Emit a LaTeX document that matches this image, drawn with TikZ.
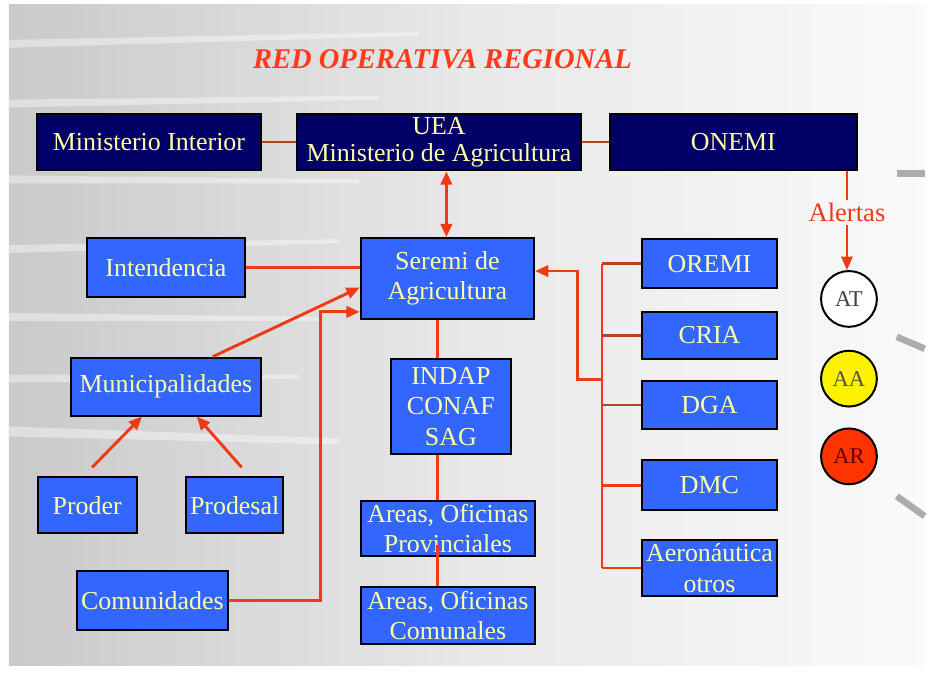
\documentclass[tikz,border=0pt]{standalone}
\usepackage{fontspec}
\setmainfont{Liberation Serif}
\usetikzlibrary{arrows.meta,calc}
\definecolor{navy}{HTML}{000066}
\definecolor{boxblue}{HTML}{3366FF}
\definecolor{paleyel}{HTML}{FFFFA8}
\definecolor{lred}{HTML}{F03A14}
\definecolor{brn}{HTML}{B5421E}
\definecolor{titred}{HTML}{FF3A1A}
\definecolor{arred}{HTML}{FF3300}
\begin{document}
\begin{tikzpicture}[x=0.75pt,y=-0.75pt,
  base/.style={draw=black, line width=1.5pt, inner sep=0pt, text=paleyel, align=center, font=\fontsize{19.5}{23}\selectfont},
  wh/.style 2 args={minimum width=#1*0.75pt, minimum height=#2*0.75pt},
  dbox/.style={base, fill=navy},
  bbox/.style={base, fill=boxblue},
  circ/.style={circle, draw=black, line width=1.5pt, minimum size=42pt, inner sep=0pt, font=\fontsize{17}{19}\selectfont},
  conn/.style={draw=lred, line width=2pt},
  bconn/.style={draw=brn, line width=2pt},
  arr/.style={conn, line width=2.2pt, -{Triangle[length=10pt,width=8.5pt]}},
  darr/.style={conn, line width=2.2pt, {Triangle[length=10pt,width=8.5pt]}-{Triangle[length=10pt,width=8.5pt]}},
  streak/.style={fill=white, opacity=0.4},
  edgemark/.style={draw=gray!65, line width=5pt}
]
% background
\fill[white] (0,0) rectangle (928,681);
\shade[left color=gray!42, right color=gray!4, middle color=gray!18] (9,5) rectangle (928,668);
\fill[streak] (9,40) -- (420,32) -- (420,36) -- (9,48) -- cycle;
\fill[streak] (9,100) -- (380,96) -- (380,100) -- (9,108) -- cycle;
\fill[streak] (9,176) -- (360,180) -- (360,184) -- (9,184) -- cycle;
\fill[streak] (9,246) -- (340,240) -- (340,244) -- (9,254) -- cycle;
\fill[streak] (9,314) -- (320,318) -- (320,322) -- (9,322) -- cycle;
\fill[streak] (9,376) -- (300,376) -- (300,380) -- (9,384) -- cycle;
\fill[streak] (9,428) -- (340,440) -- (340,446) -- (9,438) -- cycle;
\draw[edgemark] (900,174) -- (928,174);
\draw[edgemark] (900,338) -- (928,350);
\draw[edgemark] (900,498) -- (928,518);

% title
\node[text=titred, font=\fontsize{21.5}{24}\selectfont\bfseries\itshape] (title) at (444,59) {RED OPERATIVA REGIONAL};

% top row
\node[dbox, wh={225}{57}] (mi) at (149.5,142.5) {Ministerio Interior};
\node[dbox, wh={285}{57}, font=\fontsize{19.5}{20.5}\selectfont] (uea) at (440.5,142.5) {UEA\\Ministerio de Agricultura};
\node[dbox, wh={248}{57}] (onemi) at (736,142.5) {ONEMI};

% middle
\node[bbox, wh={159}{59}] (inte) at (166.5,268.5) {Intendencia};
\node[bbox, wh={174}{81}] (ser) at (449,279.5) {Seremi de\\Agricultura};
\node[bbox, wh={191}{58}] (muni) at (166.5,388) {Municipalidades};
\node[bbox, wh={99}{56}] (proder) at (87.5,507) {Proder};
\node[bbox, wh={97}{56}] (prodesal) at (235.5,507) {Prodesal};
\node[bbox, wh={152}{59}] (comu) at (153,602.5) {Comunidades};
\node[bbox, wh={121}{96}] (indap) at (452.5,408) {INDAP\\CONAF\\SAG};
\node[bbox, wh={175}{55}] (aprov) at (449.5,530.5) {Areas, Oficinas\\Provinciales};
\node[bbox, wh={175}{57}] (acom) at (449.5,617.5) {Areas, Oficinas\\Comunales};

% right column
\node[bbox, wh={136}{49}] (oremi) at (712,264.5) {OREMI};
\node[bbox, wh={136}{47}] (cria) at (712,336.5) {CRIA};
\node[bbox, wh={136}{49}] (dga) at (712,406.5) {DGA};
\node[bbox, wh={136}{50}] (dmc) at (712,487) {DMC};
\node[bbox, wh={136}{56}] (aero) at (712,570) {Aeronáutica\\otros};

% alerts
\node[text=lred, font=\fontsize{20}{22}\selectfont, inner sep=2pt] (alert) at (850,213) {Alertas};
\node[circ, fill=white, text=black!75] (at) at (852,300) {AT};
\node[circ, fill=yellow, text=black!60!yellow!60!black] (aa) at (852,380) {AA};
\node[circ, fill=arred, text=red!40!black] (ar) at (852,458) {AR};

% connectors
\draw[bconn] (mi.east) -- (uea.west);
\draw[bconn] (uea.east) -- (onemi.west);
\coordinate (ux) at (448,0);
\draw[darr] (ux |- uea.south) -- (ux |- ser.north);
\draw[conn] (inte.east) -- (inte.east -| ser.west);
\draw[arr] ($(muni.north)+(47,0)$) -- ($(ser.west)+(0,9)$);
\draw[arr] ($(proder.north)+(5,-9)$) -- ($(muni.south)+(-24,0)$);
\draw[arr] ($(prodesal.north)+(7,-9)$) -- ($(muni.south)+(31,0)$);
\coordinate (cj) at (322,313);
\draw[arr] (comu.east) -| (cj) -- (cj -| ser.west);

\coordinate (vx) at (439,0);
\draw[conn] (vx |- ser.south) -- (vx |- indap.north);
\draw[conn] (vx |- indap.south) -- (vx |- aprov.north);
\draw[conn] ($(vx |- aprov.south)+(0,-12)$) -- (vx |- acom.north);

\coordinate (bx) at (604,0);
\draw[conn] (bx |- oremi.west) -- (bx |- aero.west);
\draw[bconn] (bx |- oremi.west) -- (oremi.west);
\draw[bconn] (bx |- cria.west) -- (cria.west);
\draw[bconn] (bx |- dga.west) -- (dga.west);
\draw[conn] (bx |- dmc.west) -- (dmc.west);
\draw[conn] (bx |- aero.west) -- (aero.west);
\coordinate (lp) at (604,381);
\coordinate (lc) at (580,272);
\draw[arr] (lp) -| (lc) -- (lc -| ser.east);

\coordinate (ax) at (850,0);
\draw[conn, line width=1.6pt] (ax |- onemi.south) -- (alert.north);
\draw[arr, line width=1.6pt] (alert.south) -- (alert.south |- at.north);
\end{tikzpicture}
\end{document}
